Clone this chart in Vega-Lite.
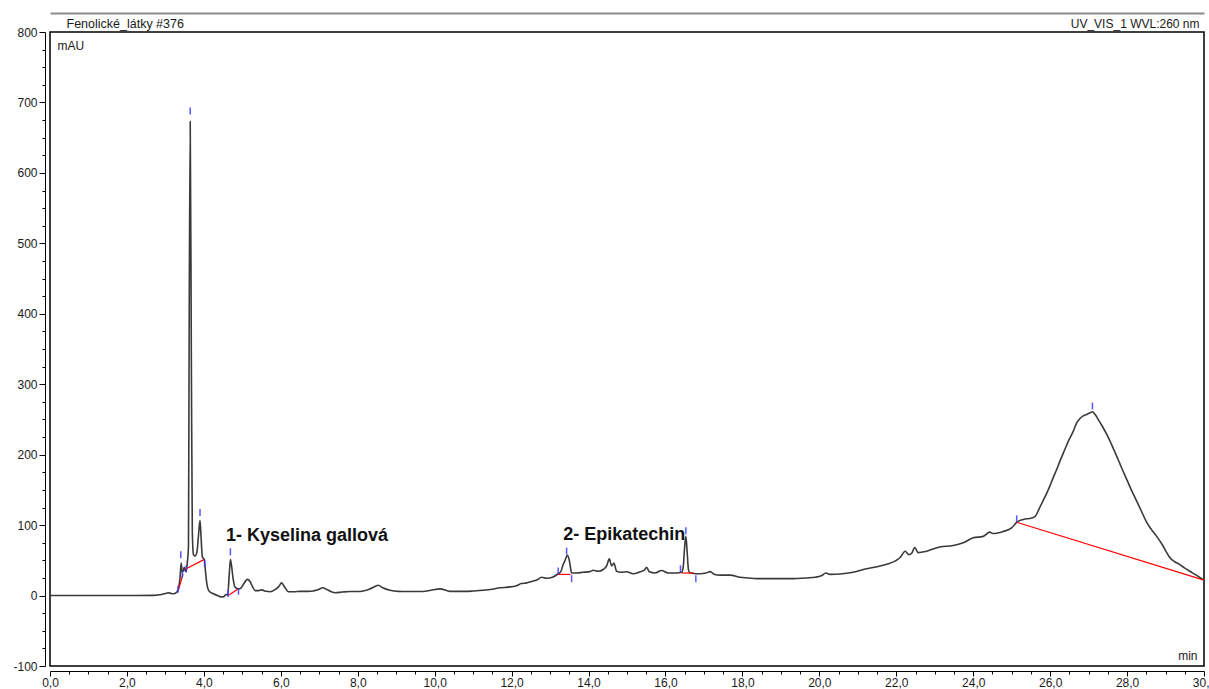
{
  "$schema": "https://vega.github.io/schema/vega-lite/v6.json",
  "width": 1154,
  "height": 634,
  "autosize": {"type": "none"},
  "padding": {"left": 50, "top": 32, "right": 5, "bottom": 23},
  "background": "#ffffff",
  "config": {
    "view": {"stroke": "#000000", "strokeWidth": 1.5},
    "axis": {
      "labelFont": "Liberation Sans",
      "titleFont": "Liberation Sans",
      "labelFontSize": 12,
      "titleFontSize": 12,
      "titleFontWeight": "normal",
      "labelColor": "#1a1a1a",
      "titleColor": "#1a1a1a",
      "grid": false,
      "domainColor": "#000000",
      "tickColor": "#000000"
    }
  },
  "datasets": {
    "trace": [
      {"t": 0, "v": 0}, {"t": 1.0, "v": 0}, {"t": 2.0, "v": 0}, {"t": 2.7, "v": 0.3}, {"t": 2.9, "v": 1.5},
      {"t": 3.0, "v": 3}, {"t": 3.07, "v": 4}, {"t": 3.15, "v": 3}, {"t": 3.22, "v": 2.5}, {"t": 3.30, "v": 5},
      {"t": 3.34, "v": 10}, {"t": 3.38, "v": 25}, {"t": 3.41, "v": 46}, {"t": 3.44, "v": 33}, {"t": 3.47, "v": 36},
      {"t": 3.49, "v": 40}, {"t": 3.52, "v": 35}, {"t": 3.54, "v": 34}, {"t": 3.57, "v": 47}, {"t": 3.60, "v": 70},
      {"t": 3.615, "v": 330}, {"t": 3.645, "v": 673}, {"t": 3.675, "v": 330}, {"t": 3.70, "v": 90}, {"t": 3.73, "v": 58},
      {"t": 3.77, "v": 56}, {"t": 3.82, "v": 62}, {"t": 3.86, "v": 85}, {"t": 3.90, "v": 107}, {"t": 3.93, "v": 80},
      {"t": 3.96, "v": 55}, {"t": 4.01, "v": 51}, {"t": 4.05, "v": 30}, {"t": 4.08, "v": 16}, {"t": 4.14, "v": 6},
      {"t": 4.25, "v": 2.5}, {"t": 4.35, "v": 0}, {"t": 4.45, "v": -2}, {"t": 4.52, "v": -1.5}, {"t": 4.57, "v": 1.5},
      {"t": 4.62, "v": 1}, {"t": 4.66, "v": 30}, {"t": 4.69, "v": 51}, {"t": 4.72, "v": 42}, {"t": 4.76, "v": 24},
      {"t": 4.81, "v": 12}, {"t": 4.9, "v": 9.5}, {"t": 4.97, "v": 11}, {"t": 5.03, "v": 16}, {"t": 5.13, "v": 23},
      {"t": 5.2, "v": 20}, {"t": 5.26, "v": 13}, {"t": 5.33, "v": 7}, {"t": 5.42, "v": 7}, {"t": 5.5, "v": 8},
      {"t": 5.62, "v": 6}, {"t": 5.72, "v": 5.5}, {"t": 5.85, "v": 8.5}, {"t": 5.95, "v": 13}, {"t": 6.02, "v": 18},
      {"t": 6.1, "v": 12}, {"t": 6.2, "v": 5.5}, {"t": 6.35, "v": 5.5}, {"t": 6.5, "v": 6}, {"t": 6.7, "v": 6},
      {"t": 6.84, "v": 6.5}, {"t": 6.95, "v": 8}, {"t": 7.1, "v": 11}, {"t": 7.2, "v": 8.5}, {"t": 7.41, "v": 4},
      {"t": 7.6, "v": 5}, {"t": 7.8, "v": 5.7}, {"t": 8.0, "v": 5.7}, {"t": 8.14, "v": 6.5}, {"t": 8.3, "v": 9},
      {"t": 8.45, "v": 13}, {"t": 8.53, "v": 14.6}, {"t": 8.65, "v": 11}, {"t": 8.84, "v": 7.5}, {"t": 9.05, "v": 6},
      {"t": 9.27, "v": 5.7}, {"t": 9.5, "v": 5.7}, {"t": 9.7, "v": 5.7}, {"t": 9.9, "v": 7.5}, {"t": 10.14, "v": 9.5},
      {"t": 10.4, "v": 6}, {"t": 10.6, "v": 6}, {"t": 10.83, "v": 6}, {"t": 11.0, "v": 6.5}, {"t": 11.26, "v": 7.5},
      {"t": 11.5, "v": 9}, {"t": 11.7, "v": 11}, {"t": 11.9, "v": 12}, {"t": 12.13, "v": 14}, {"t": 12.25, "v": 17},
      {"t": 12.39, "v": 18}, {"t": 12.52, "v": 20}, {"t": 12.65, "v": 22}, {"t": 12.78, "v": 26}, {"t": 12.9, "v": 24.5},
      {"t": 13.08, "v": 26.5}, {"t": 13.21, "v": 31}, {"t": 13.28, "v": 34}, {"t": 13.34, "v": 44}, {"t": 13.39, "v": 50},
      {"t": 13.45, "v": 57}, {"t": 13.50, "v": 50}, {"t": 13.53, "v": 40}, {"t": 13.56, "v": 32}, {"t": 13.69, "v": 32},
      {"t": 13.85, "v": 33}, {"t": 14.04, "v": 34}, {"t": 14.12, "v": 36}, {"t": 14.25, "v": 34.5}, {"t": 14.38, "v": 37},
      {"t": 14.47, "v": 42}, {"t": 14.54, "v": 52}, {"t": 14.60, "v": 42}, {"t": 14.66, "v": 46}, {"t": 14.73, "v": 34.5},
      {"t": 14.85, "v": 33}, {"t": 14.99, "v": 33.7}, {"t": 15.16, "v": 31}, {"t": 15.34, "v": 33.7}, {"t": 15.45, "v": 36},
      {"t": 15.51, "v": 40}, {"t": 15.58, "v": 33.7}, {"t": 15.73, "v": 32}, {"t": 15.9, "v": 35.5}, {"t": 16.07, "v": 32},
      {"t": 16.29, "v": 32}, {"t": 16.42, "v": 33}, {"t": 16.46, "v": 40}, {"t": 16.50, "v": 70}, {"t": 16.53, "v": 84},
      {"t": 16.56, "v": 65}, {"t": 16.60, "v": 36}, {"t": 16.65, "v": 32}, {"t": 16.8, "v": 31}, {"t": 16.9, "v": 31},
      {"t": 17.05, "v": 32}, {"t": 17.16, "v": 34}, {"t": 17.28, "v": 30}, {"t": 17.42, "v": 29}, {"t": 17.68, "v": 29},
      {"t": 17.94, "v": 26}, {"t": 18.15, "v": 25}, {"t": 18.37, "v": 24}, {"t": 18.8, "v": 24}, {"t": 19.24, "v": 24},
      {"t": 19.67, "v": 25}, {"t": 19.9, "v": 26}, {"t": 20.05, "v": 28}, {"t": 20.17, "v": 32}, {"t": 20.28, "v": 30},
      {"t": 20.54, "v": 30.5}, {"t": 20.88, "v": 33}, {"t": 21.23, "v": 38}, {"t": 21.58, "v": 42}, {"t": 21.84, "v": 46},
      {"t": 22.0, "v": 50}, {"t": 22.1, "v": 54}, {"t": 22.23, "v": 63}, {"t": 22.33, "v": 58}, {"t": 22.4, "v": 60},
      {"t": 22.48, "v": 68}, {"t": 22.57, "v": 61}, {"t": 22.79, "v": 63}, {"t": 23.13, "v": 69}, {"t": 23.48, "v": 71},
      {"t": 23.74, "v": 75}, {"t": 24.0, "v": 82}, {"t": 24.26, "v": 84}, {"t": 24.43, "v": 90}, {"t": 24.52, "v": 88},
      {"t": 24.78, "v": 91}, {"t": 25.0, "v": 96}, {"t": 25.13, "v": 104}, {"t": 25.3, "v": 108}, {"t": 25.52, "v": 110},
      {"t": 25.62, "v": 113}, {"t": 25.73, "v": 125}, {"t": 25.82, "v": 135}, {"t": 25.9, "v": 144}, {"t": 25.99, "v": 155},
      {"t": 26.07, "v": 166}, {"t": 26.17, "v": 179}, {"t": 26.27, "v": 193}, {"t": 26.38, "v": 207}, {"t": 26.48, "v": 220},
      {"t": 26.6, "v": 233}, {"t": 26.68, "v": 244}, {"t": 26.77, "v": 251}, {"t": 26.86, "v": 255}, {"t": 26.95, "v": 257},
      {"t": 27.05, "v": 260}, {"t": 27.1, "v": 261}, {"t": 27.17, "v": 257}, {"t": 27.25, "v": 250}, {"t": 27.36, "v": 240},
      {"t": 27.47, "v": 229}, {"t": 27.6, "v": 214}, {"t": 27.73, "v": 198}, {"t": 27.86, "v": 181}, {"t": 27.99, "v": 165},
      {"t": 28.12, "v": 149}, {"t": 28.25, "v": 134}, {"t": 28.38, "v": 119}, {"t": 28.5, "v": 105}, {"t": 28.63, "v": 94},
      {"t": 28.77, "v": 84}, {"t": 28.94, "v": 70}, {"t": 29.02, "v": 62}, {"t": 29.11, "v": 54}, {"t": 29.24, "v": 48},
      {"t": 29.37, "v": 44}, {"t": 29.5, "v": 39}, {"t": 29.63, "v": 34.5}, {"t": 29.8, "v": 29}, {"t": 29.94, "v": 24},
      {"t": 30.0, "v": 22}
    ],
    "baselines": [
      {"seg": 1, "t": 3.34, "v": 8}, {"seg": 1, "t": 3.46, "v": 31},
      {"seg": 2, "t": 3.50, "v": 37}, {"seg": 2, "t": 4.00, "v": 51},
      {"seg": 3, "t": 4.63, "v": 0}, {"seg": 3, "t": 4.90, "v": 9.5},
      {"seg": 4, "t": 13.21, "v": 30}, {"seg": 4, "t": 13.53, "v": 30},
      {"seg": 5, "t": 16.42, "v": 32}, {"seg": 5, "t": 16.74, "v": 32},
      {"seg": 6, "t": 25.13, "v": 104}, {"seg": 6, "t": 30.0, "v": 22}
    ],
    "markers": [
      {"t": 3.33, "v": 9}, {"t": 3.44, "v": 30}, {"t": 3.54, "v": 38}, {"t": 3.40, "v": 58},
      {"t": 3.645, "v": 688}, {"t": 3.90, "v": 118}, {"t": 4.02, "v": 46},
      {"t": 4.63, "v": 3}, {"t": 4.69, "v": 62}, {"t": 4.90, "v": 6},
      {"t": 13.21, "v": 35}, {"t": 13.43, "v": 63}, {"t": 13.56, "v": 24},
      {"t": 16.39, "v": 38}, {"t": 16.53, "v": 92}, {"t": 16.79, "v": 24},
      {"t": 25.13, "v": 109}, {"t": 27.1, "v": 269}
    ],
    "labels": [
      {"t": 4.575, "v": 84, "label": "1- Kyselina gallová"},
      {"t": 13.34, "v": 86.6, "label": "2- Epikatechin"}
    ]
  },
  "resolve": {"axis": {"x": "independent", "y": "independent"}},
  "layer": [
    {
      "data": {"name": "trace"},
      "mark": {"type": "line", "color": "#3a3a3a", "strokeWidth": 1.6, "interpolate": "monotone"},
      "encoding": {
        "x": {
          "field": "t", "type": "quantitative",
          "scale": {"domain": [0, 30], "nice": false, "zero": false},
          "axis": {
            "orient": "bottom", "offset": 5,
            "values": [0,0.5,1,1.5,2,2.5,3,3.5,4,4.5,5,5.5,6,6.5,7,7.5,8,8.5,9,9.5,10,10.5,11,11.5,12,12.5,13,13.5,14,14.5,15,15.5,16,16.5,17,17.5,18,18.5,19,19.5,20,20.5,21,21.5,22,22.5,23,23.5,24,24.5,25,25.5,26,26.5,27,27.5,28,28.5,29,29.5,30],
            "tickSize": {"condition": {"test": "datum.value % 2 === 0", "value": 5}, "value": 3},
            "labelExpr": "datum.value % 2 === 0 ? replace(format(datum.value, '.1f'), '.', ',') : ''",
            "labelOverlap": false, "labelFlush": false, "labelPadding": 1,
            "title": "min", "titleX": 1147, "titleY": -16, "titleAlign": "right", "titleBaseline": "middle", "titleAngle": 0
          }
        },
        "y": {
          "field": "v", "type": "quantitative",
          "scale": {"domain": [-100, 800], "nice": false, "zero": false},
          "axis": {
            "orient": "left", "offset": 5,
            "values": [-100,-75,-50,-25,0,25,50,75,100,125,150,175,200,225,250,275,300,325,350,375,400,425,450,475,500,525,550,575,600,625,650,675,700,725,750,775,800],
            "tickSize": {"condition": {"test": "datum.value % 100 === 0", "value": 6}, "value": 3},
            "labelExpr": "datum.value % 100 === 0 ? ('' + datum.value) : ''",
            "labelOverlap": false, "labelFlush": false, "labelPadding": 2,
            "title": "mAU", "titleX": 12, "titleY": 13, "titleAlign": "left", "titleBaseline": "middle", "titleAngle": 0
          }
        }
      }
    },
    {
      "data": {"name": "baselines"},
      "mark": {"type": "line", "color": "#ff0000", "strokeWidth": 1.2},
      "encoding": {
        "detail": {"field": "seg", "type": "nominal"},
        "x": {
          "field": "t", "type": "quantitative",
          "axis": {
            "orient": "top", "offset": 19, "domainColor": "#8c8c8c", "domainWidth": 2,
            "ticks": false, "labels": false,
            "title": "Fenolické_látky #376", "titleFontSize": 12.5, "titleX": 16, "titleY": 10, "titleAlign": "left", "titleBaseline": "middle", "titleAngle": 0
          }
        },
        "y": {
          "field": "v", "type": "quantitative",
          "axis": {
            "orient": "right", "domain": false, "ticks": false, "labels": false,
            "title": "UV_VIS_1 WVL:260 nm", "titleX": -5, "titleY": -9, "titleAlign": "right", "titleBaseline": "middle", "titleAngle": 0
          }
        }
      }
    },
    {
      "data": {"name": "markers"},
      "mark": {"type": "tick", "orient": "vertical", "color": "#3a3aff", "size": 7, "thickness": 1.5, "opacity": 0.85},
      "encoding": {
        "x": {"field": "t", "type": "quantitative", "axis": null},
        "y": {"field": "v", "type": "quantitative", "axis": null}
      }
    },
    {
      "data": {"name": "labels"},
      "mark": {"type": "text", "font": "Liberation Sans", "fontSize": 18, "fontWeight": "bold", "align": "left", "baseline": "middle", "color": "#111111"},
      "encoding": {
        "x": {"field": "t", "type": "quantitative", "axis": null},
        "y": {"field": "v", "type": "quantitative", "axis": null},
        "text": {"field": "label", "type": "nominal"}
      }
    }
  ]
}
